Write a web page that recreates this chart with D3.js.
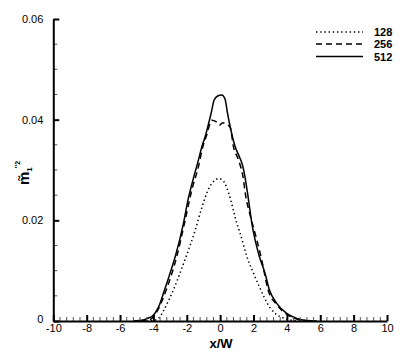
<!DOCTYPE html>
<html><head><meta charset="utf-8">
<script src="https://cdn.jsdelivr.net/npm/d3@7"></script>
<style>body{margin:0;background:#fff}svg{display:block;font-family:"Liberation Sans",Arial,sans-serif}</style>
</head><body><div id="chart"></div>
<script>
const seriesNames = ["128", "256", "512"];
const xs128 = [-4.4,-4.0,-3.7,-3.4,-3.1,-2.8,-2.35,-2.04,-1.5,-1.1,-0.7,-0.3,-0.08,0.2,0.5,1.0,1.2,1.6,2.0,2.35,3.0,3.3,3.8,4.4,5.0];
const ys128 = [0,0.0001,0.0005,0.0020,0.0040,0.0062,0.0100,0.0128,0.0180,0.0225,0.0262,0.0280,0.0283,0.0278,0.0255,0.0194,0.0174,0.0128,0.0095,0.0068,0.0026,0.0015,0.0006,0.0001,0];
const xs256 = [-4.8,-4.2,-3.8,-3.23,-2.6,-2.14,-1.7,-1.3,-1.04,-0.8,-0.5,-0.25,-0.05,0.15,0.3,0.6,0.8,1.1,1.4,1.5,1.8,2.2,2.5,2.87,3.4,4.0,4.6,5.3];
const ys256 = [0,0.0003,0.0018,0.0062,0.0128,0.0194,0.0260,0.0307,0.0346,0.0370,0.0399,0.0396,0.0389,0.0394,0.0392,0.0385,0.0346,0.0320,0.0280,0.0255,0.0210,0.0161,0.0120,0.0062,0.0032,0.0013,0.0004,0];
const xs512 = [-5.2,-4.6,-4.3,-4.09,-3.69,-3.33,-3.0,-2.69,-2.2,-1.93,-1.63,-1.3,-1.1,-0.9,-0.54,-0.36,-0.15,0.1,0.3,0.44,0.64,0.9,1.16,1.36,1.52,1.66,1.9,2.35,2.69,2.95,3.39,3.99,4.59,5.2,5.8];
const ys512 = [0,0.0002,0.0006,0.0009,0.0028,0.0062,0.0095,0.0128,0.0194,0.0240,0.0280,0.0320,0.0346,0.0366,0.0413,0.0439,0.0447,0.0449,0.0440,0.0413,0.0380,0.0346,0.0326,0.0307,0.0280,0.0250,0.0194,0.0128,0.0095,0.0062,0.0035,0.0015,0.0005,0.0001,0];
const xTicks = [-10,-8,-6,-4,-2,0,2,4,6,8,10];
const xTickLabels = ["-10","-8","-6","-4","-2","0","2","4","6","8","10"];
const yTicks = [0,0.02,0.04,0.06];
const yTickLabels = ["0","0.02","0.04","0.06"];

const W = 407, H = 362;
const svg = d3.select("#chart").append("svg").attr("width", W).attr("height", H);
const x = d3.scaleLinear().domain([-10, 10]).range([53.3, 387]);
const y = d3.scaleLinear().domain([0, 0.06]).range([321, 19]);

const styles = {
  "128": {dash: "1.4,2.8", w: 1.5},
  "256": {dash: "6,4", w: 1.5},
  "512": {dash: null, w: 1.5}
};
const data = {
  "128": xs128.map((v, i) => [v, ys128[i]]),
  "256": xs256.map((v, i) => [v, ys256[i]]),
  "512": xs512.map((v, i) => [v, ys512[i]])
};
const line = d3.line().x(d => x(d[0])).y(d => y(d[1])).curve(d3.curveMonotoneX);
seriesNames.forEach(n => {
  svg.append("path").datum(data[n]).attr("d", line)
    .attr("fill", "none").attr("stroke", "#000").attr("stroke-width", styles[n].w)
    .attr("stroke-dasharray", styles[n].dash);
});

// minor ticks
const xMinor = d3.range(-10, 10.001, 0.4).filter(v => Math.abs(v/2 - Math.round(v/2)) > 1e-6);
svg.append("g").selectAll("line").data(xMinor).join("line")
  .attr("x1", d => x(d)).attr("x2", d => x(d)).attr("y1", 321).attr("y2", 317)
  .attr("stroke", "#555").attr("stroke-width", 1);
const yMinor = d3.range(0, 0.0601, 0.005).filter(v => Math.abs(v/0.02 - Math.round(v/0.02)) > 1e-6);
svg.append("g").selectAll("line").data(yMinor).join("line")
  .attr("x1", 53.3).attr("x2", 57.3).attr("y1", d => y(d)).attr("y2", d => y(d))
  .attr("stroke", "#555").attr("stroke-width", 1);

// axes
const xAxis = d3.axisBottom(x).tickValues(xTicks).tickFormat((d, i) => xTickLabels[i]).tickSizeInner(-6).tickSizeOuter(0).tickPadding(3);
const gx = svg.append("g").attr("transform", "translate(0,321)").call(xAxis);
gx.select(".domain").attr("stroke-width", 2);
gx.selectAll(".tick line").attr("stroke-width", 2);
gx.selectAll(".tick text").attr("font-size", 11).attr("font-family", "Liberation Sans, Arial, sans-serif").attr("fill", "#000");

const yAxis = d3.axisLeft(y).tickValues(yTicks).tickFormat((d, i) => yTickLabels[i]).tickSizeInner(-6).tickSizeOuter(0).tickPadding(10);
const gy = svg.append("g").attr("transform", "translate(53.3,0)").call(yAxis);
gy.select(".domain").attr("stroke-width", 2);
gy.selectAll(".tick line").attr("stroke-width", 2);
gy.selectAll(".tick text").attr("font-size", 11).attr("font-family", "Liberation Sans, Arial, sans-serif").attr("fill", "#000");
gy.selectAll(".tick").filter(d => d === 0).select("text").attr("dy", "0.1em");

// axis titles
svg.append("text").attr("x", 221).attr("y", 348).attr("text-anchor", "middle")
  .attr("font-size", 13).attr("font-weight", "bold").text("x/W");

const yl = svg.append("text").attr("transform", "translate(29,185) rotate(-90)")
  .attr("font-size", 15).attr("font-weight", "bold");
yl.append("tspan").text("m\u0303");
yl.append("tspan").attr("font-size", 8).attr("dy", 3).text("1");
yl.append("tspan").attr("font-size", 7).attr("dy", -12).attr("dx", -1).text("''2");

// legend
const legY = [32, 44, 56.5];
const legOrder = ["128", "256", "512"];
legOrder.forEach((n, i) => {
  svg.append("line").attr("x1", 316).attr("x2", 363).attr("y1", legY[i]).attr("y2", legY[i])
    .attr("stroke", "#000").attr("stroke-width", 1.5).attr("stroke-dasharray", styles[n].dash);
  svg.append("text").attr("x", 374).attr("y", legY[i] + 4).attr("font-size", 11)
    .attr("font-weight", "bold").text(n);
});
</script></body></html>
